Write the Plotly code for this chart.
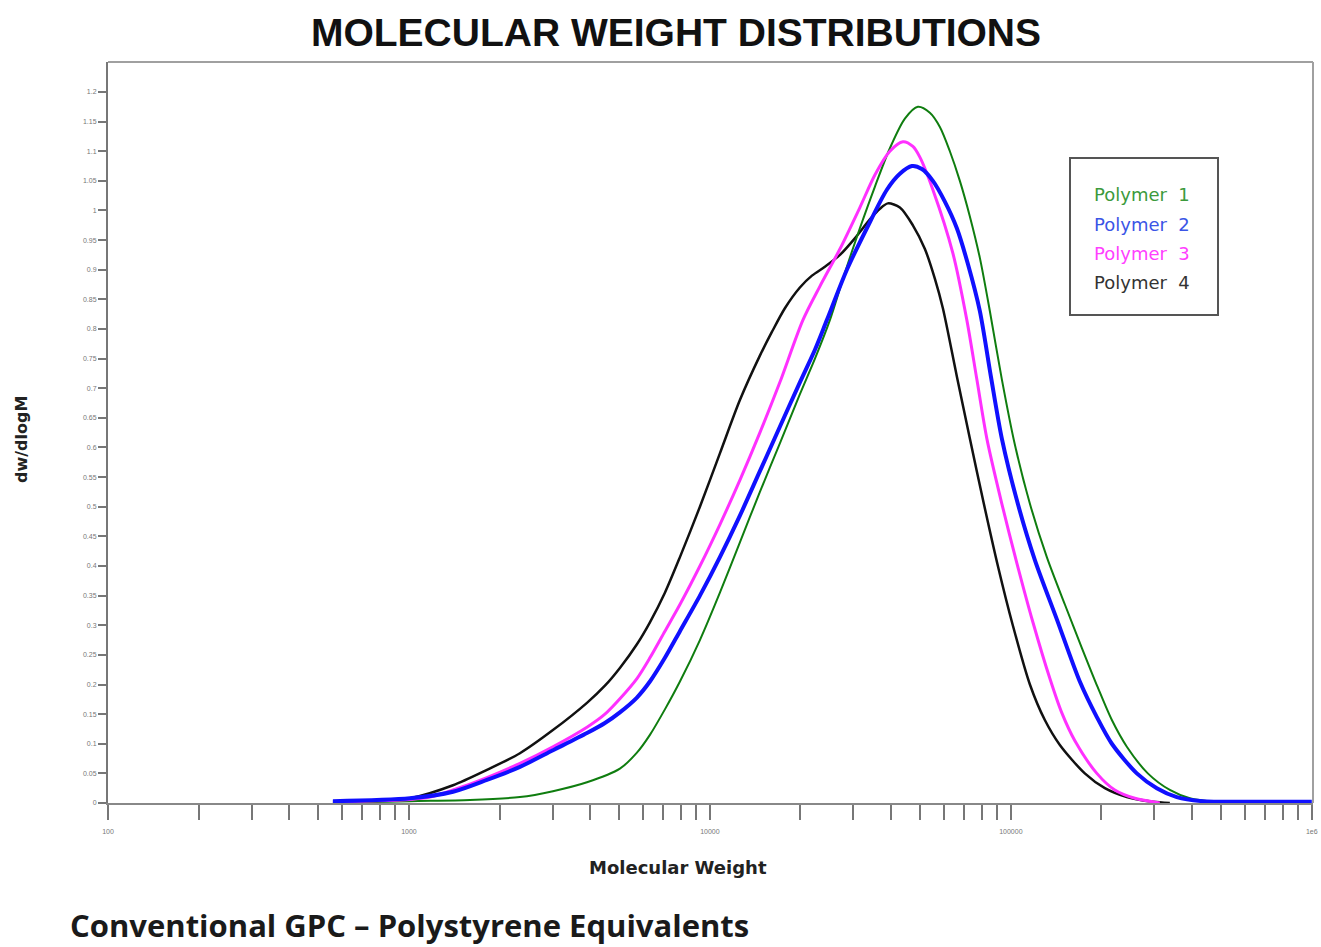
import plotly.graph_objects as go

# Molecular weight (g/mol) and dw/dlogM
p1_mw = [559, 1008, 1595, 2338, 3009, 3904, 5023, 5722, 6320, 7088, 7951, 9265, 10795, 12580,
         14660, 17080, 19910, 22340, 25040, 28090, 31500, 35330, 39630, 44450, 49090, 53810,
         58100, 62710, 67700, 73080, 78890, 85180, 93350, 103100, 115700, 131700, 151200,
         172100, 194500, 216600, 242900, 285200, 337500, 393300, 476200, 576700]
p1_val = [0.0, 0.003, 0.005, 0.01, 0.02, 0.035, 0.058, 0.085, 0.115, 0.158, 0.205, 0.275, 0.355,
          0.44, 0.525, 0.607, 0.69, 0.75, 0.815, 0.895, 0.97, 1.04, 1.105, 1.155, 1.175, 1.165,
          1.141, 1.10, 1.05, 0.99, 0.92, 0.83, 0.715, 0.605, 0.505, 0.415, 0.335, 0.262, 0.195,
          0.14, 0.095, 0.05, 0.022, 0.008, 0.002, 0.0]

p2_mw = [559, 1008, 1401, 1816, 2338, 3009, 3904, 4479, 5023, 5722, 6320, 7088, 7951, 9265,
         10795, 12580, 14660, 17080, 19910, 22340, 24470, 28520, 33230, 38730, 42780, 46900,
         50620, 55070, 60360, 66160, 71960, 78890, 85830, 93350, 105500, 120200, 142200,
         169500, 193100, 216600, 262200, 305500, 356100, 434500, 622300, 1000000]
p2_val = [0.003, 0.008, 0.019, 0.039, 0.061, 0.089, 0.118, 0.135, 0.153, 0.178, 0.205, 0.245,
          0.29, 0.35, 0.415, 0.485, 0.56, 0.635, 0.71, 0.765, 0.815, 0.90, 0.97, 1.035, 1.062,
          1.075, 1.07, 1.05, 1.015, 0.97, 0.91, 0.83, 0.72, 0.615, 0.505, 0.41, 0.31, 0.205,
          0.145, 0.10, 0.05, 0.025, 0.01, 0.003, 0.002, 0.002]

p3_mw = [559, 1008, 1174, 1401, 1816, 2338, 3009, 3904, 4479, 5023, 5722, 6320, 7088, 7951,
         9265, 10795, 12580, 14660, 17080, 20370, 23200, 27040, 31500, 35330, 39630, 43780,
         47260, 49850, 55070, 64170, 71420, 77090, 83230, 93350, 104700, 118400, 134800,
         147700, 163200, 193100, 221500, 258200, 312600]
p3_val = [0.002, 0.006, 0.01, 0.022, 0.043, 0.067, 0.095, 0.128, 0.15, 0.176, 0.21, 0.245, 0.29,
          0.335, 0.40, 0.47, 0.545, 0.625, 0.71, 0.815, 0.872, 0.935, 1.005, 1.06, 1.10, 1.116,
          1.108, 1.09, 1.035, 0.928, 0.815, 0.715, 0.615, 0.505, 0.405, 0.305, 0.21, 0.152,
          0.105, 0.05, 0.022, 0.008, 0.0]

p4_mw = [559, 801, 1008, 1401, 1816, 2338, 3009, 3904, 4479, 5023, 5722, 6320, 7088, 7951,
         9265, 10795, 12580, 14660, 16070, 17750, 19910, 21830, 24100, 27040, 30310, 34010,
         36720, 39030, 42780, 47260, 51810, 55910, 59450, 66160, 73080, 81340, 90560, 101500,
         115700, 129700, 145500, 176100, 205300, 242900, 296400, 337500]
p4_val = [0.002, 0.004, 0.008, 0.03, 0.056, 0.084, 0.123, 0.169, 0.198, 0.228, 0.268, 0.305,
          0.355, 0.415, 0.50, 0.59, 0.68, 0.755, 0.795, 0.835, 0.87, 0.89, 0.905, 0.925, 0.953,
          0.985, 1.003, 1.012, 1.005, 0.975, 0.935, 0.885, 0.835, 0.72, 0.615, 0.505, 0.40, 0.30,
          0.20, 0.14, 0.098, 0.05, 0.025, 0.01, 0.002, 0.0]

names = ["Polymer  1", "Polymer  2", "Polymer  3", "Polymer  4"]
line_colors = ["#0f7d0f", "#1010ff", "#ff30ff", "#111111"]
text_colors = ["#3c9a3c", "#3b55e6", "#ff40ff", "#333333"]
widths = [2, 4, 3, 2.5]

y_tickvals = [round(i * 0.05, 2) for i in range(25)]
x_tickvals = [m * 10 ** d for d in range(2, 6) for m in range(1, 10)] + [1000000]
decade_labels = {100: "100", 1000: "1000", 10000: "10000", 100000: "100000", 1000000: "1e6"}
x_ticktext = [decade_labels.get(v, "") for v in x_tickvals]

fig = go.Figure()
series = [(p1_mw, p1_val), (p2_mw, p2_val), (p3_mw, p3_val), (p4_mw, p4_val)]
for idx in [3, 0, 2, 1]:
    xs, ys = series[idx]
    fig.add_trace(go.Scatter(x=xs, y=ys, mode="lines", name=names[idx],
                             line=dict(color=line_colors[idx], width=widths[idx],
                                       shape="spline", smoothing=0.8),
                             showlegend=False, hoverinfo="x+y"))

L, R, T, B = 108, 8, 62, 144
W, H = 1321, 947
pw, ph = W - L - R, H - T - B

def px(x):
    return (x - L) / pw

def py(y):
    return (H - B - y) / ph

annotations = []
legend_y = [194, 225, 253, 282]
for i in range(4):
    annotations.append(dict(xref="paper", yref="paper", x=px(1092), y=py(legend_y[i]),
                            xanchor="left", yanchor="middle", showarrow=False,
                            text=names[i].replace("  ", "&nbsp;&nbsp;"),
                            font=dict(family="DejaVu Sans", size=18, color=text_colors[i])))
annotations += [
    dict(xref="paper", yref="paper", x=px(22), y=py(440), textangle=-90, showarrow=False,
         xanchor="center", yanchor="middle",
         text="<b>dw/dlogM</b>", font=dict(family="DejaVu Sans", size=16, color="#222")),
    dict(xref="paper", yref="paper", x=px(678), y=py(867), showarrow=False,
         xanchor="center", yanchor="middle",
         text="<b>Molecular Weight</b>", font=dict(family="DejaVu Sans", size=18, color="#222")),
    dict(xref="paper", yref="paper", x=px(68), y=py(925), xanchor="left", yanchor="middle",
         showarrow=False, text="<b>Conventional GPC – Polystyrene Equivalents</b>",
         font=dict(family="Open Sans", size=31, color="#1a1a1a")),
]

shapes = [
    dict(type="line", xref="paper", yref="paper", x0=0, x1=1, y0=1, y1=1,
         line=dict(color="#a0a0a0", width=2)),
    dict(type="line", xref="paper", yref="paper", x0=1, x1=1, y0=0, y1=1,
         line=dict(color="#a0a0a0", width=2)),
    dict(type="rect", xref="paper", yref="paper", x0=px(1070), x1=px(1218),
         y0=py(315), y1=py(158), line=dict(color="#555555", width=2), fillcolor="rgba(0,0,0,0)"),
]

fig.update_layout(
    width=W, height=H, margin=dict(l=L, r=R, t=T, b=B, autoexpand=False),
    paper_bgcolor="white", plot_bgcolor="white",
    title=dict(text="<b>MOLECULAR WEIGHT DISTRIBUTIONS</b>", xref="container", yref="container",
               x=676 / W, y=1 - 32 / H, xanchor="center", yanchor="middle",
               font=dict(family="Liberation Sans", size=39, color="#111")),
    annotations=annotations, shapes=shapes,
    xaxis=dict(type="log", range=[2, 6.004], tickvals=x_tickvals, ticktext=x_ticktext,
               ticks="outside", ticklen=15, tickcolor="#777", tickwidth=1.5,
               showline=True, linecolor="#888", linewidth=2, showgrid=False, zeroline=False,
               tickfont=dict(family="Liberation Sans", size=7, color="#777"),
               ticklabelstandoff=6, automargin=False),
    yaxis=dict(range=[0, 1.2506], tickvals=y_tickvals, ticks="outside", ticklen=8,
               tickcolor="#777", tickwidth=1.5, showline=True, linecolor="#777", linewidth=2,
               showgrid=False, zeroline=False, automargin=False,
               tickfont=dict(family="Liberation Sans", size=7, color="#777")),
)

fig.write_html("out.html", config={"displayModeBar": False},
               post_script="document.body.style.margin='0';")
